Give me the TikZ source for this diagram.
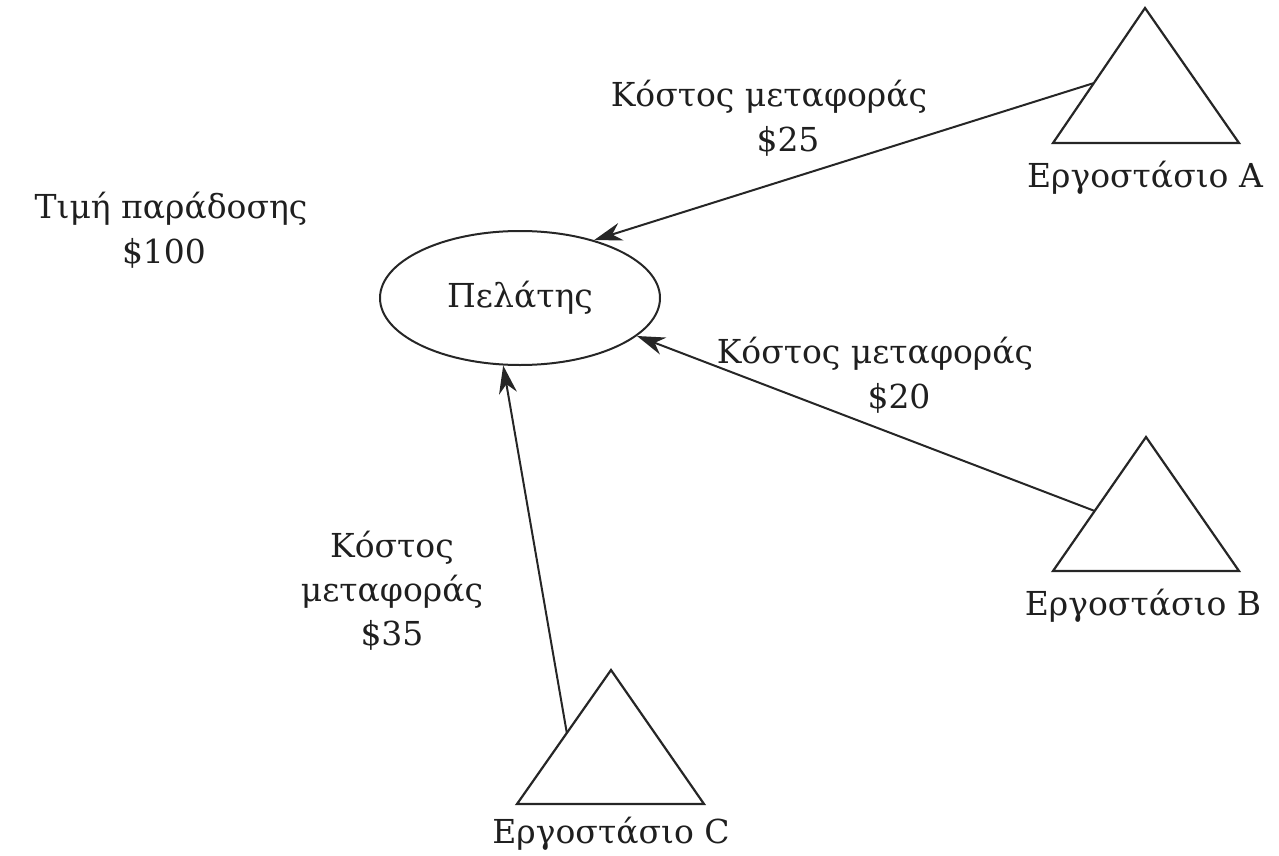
\documentclass[tikz,border=0pt]{standalone}
\usepackage{fontspec}
\setmainfont{DejaVu Serif}
\usetikzlibrary{shapes.geometric,arrows.meta,calc}
\begin{document}
\begin{tikzpicture}[x=1pt,y=-1pt,
  lbl/.style={inner sep=0pt,align=center,text=black!88,font=\fontsize{33}{45}\selectfont},
  tri/.style={line width=2.2pt,line join=miter,draw=black!85},
  conn/.style={line width=2pt,draw=black!85,-{Stealth[length=28pt,width=18pt,inset=9pt]}}]
\useasboundingbox (0,0) rectangle (1279,856);
% customer
\node[ellipse,draw=black!85,line width=2pt,minimum width=280pt,minimum height=134pt,inner sep=0pt,
  text=black!88,font=\fontsize{33}{36}\selectfont] (cust) at (520,298) {Πελάτης};
% factories (triangles)
\coordinate (aT) at (1145,8);  \coordinate (aL) at (1053,143); \coordinate (aR) at (1239,143);
\coordinate (bT) at (1146,437); \coordinate (bL) at (1053,571); \coordinate (bR) at (1239,571);
\coordinate (cT) at (611,670);  \coordinate (cL) at (517,804);  \coordinate (cR) at (704,804);
\draw[tri] (aT) -- (aL) -- (aR) -- cycle;
\draw[tri] (bT) -- (bL) -- (bR) -- cycle;
\draw[tri] (cT) -- (cL) -- (cR) -- cycle;
\coordinate (aS) at ($(aT)!0.556!(aL)$);
\coordinate (bS) at ($(bT)!0.552!(bL)$);
\coordinate (cS) at ($(cT)!0.47!(cL)$);
\node[lbl,anchor=base] (labA) at (1145,187) {Εργοστάσιο A};
\node[lbl,anchor=base] (labB) at (1143,615) {Εργοστάσιο B};
\node[lbl,anchor=base] (labC) at (611,843) {Εργοστάσιο C};
% connectors
\draw[conn] (aS) -- (cust.38);
\draw[conn] (bS) -- (cust.-18.6);
\draw[conn] (cS) -- (cust.-104);
% cost labels
\node[lbl] (costA) at (769,118) {Κόστος μεταφοράς\\\hspace*{38pt}\$25};
\node[lbl] (costB) at (875,375) {Κόστος μεταφοράς\\\hspace*{48pt}\$20};
\node[lbl,font=\fontsize{33}{44}\selectfont] (costC) at (392,591) {Κόστος\\μεταφοράς\\\$35};
\node[lbl] (price) at (171,230) {Τιμή παράδοσης\\\$100\hspace*{14pt}};
\end{tikzpicture}
\end{document}
